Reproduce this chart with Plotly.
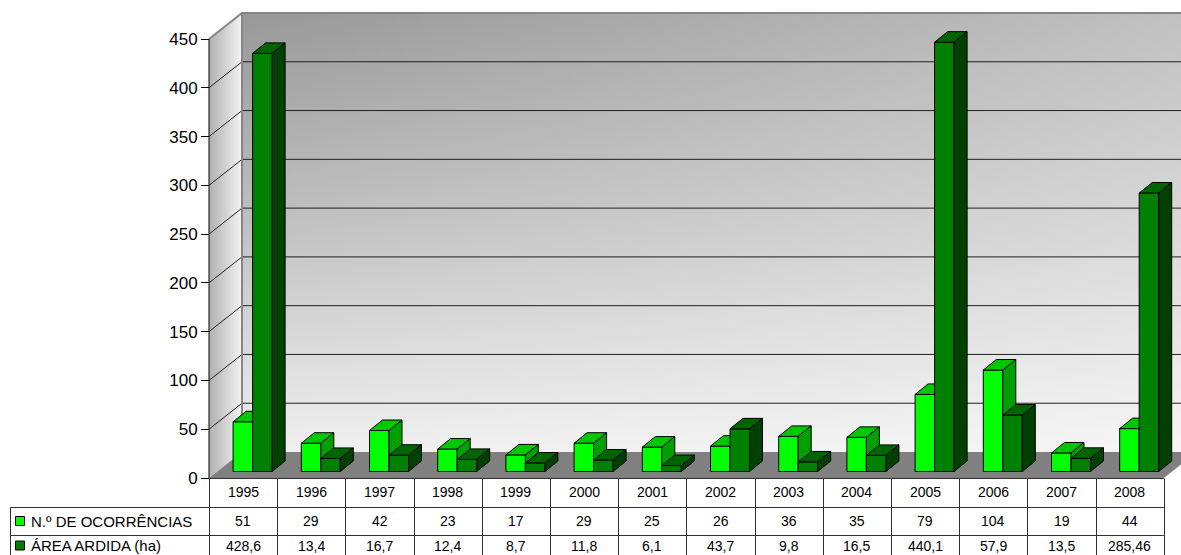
import plotly.graph_objects as go

# ---------------- data ----------------
years = ['1995', '1996', '1997', '1998', '1999', '2000', '2001',
         '2002', '2003', '2004', '2005', '2006', '2007', '2008']
ocorrencias = [51, 29, 42, 23, 17, 29, 25, 26, 36, 35, 79, 104, 19, 44]
area_ardida = [428.6, 13.4, 16.7, 12.4, 8.7, 11.8, 6.1, 43.7, 9.8, 16.5,
               440.1, 57.9, 13.5, 285.46]
y_ticks = [0, 50, 100, 150, 200, 250, 300, 350, 400, 450]
series_names = ['N.º DE OCORRÊNCIAS', 'ÁREA ARDIDA (ha)']

# ---------------- styling / geometry (pixel based layout) ----------------
W_FIG, H_FIG = 1181, 555
AX_PX = 209.0          # front value-axis position (px)
COL_PX = 68.2          # width of one category (px)
Y0_PX = 478.0          # value 0 on the front plane (px)
PPU = 439.0 / 450.0    # pixels per value unit
FONT = 'Liberation Sans, Arial, sans-serif'

def X(px):
    return (px - AX_PX) / COL_PX - 0.5

def Y(py):
    return (Y0_PX - py) / PPU

XR = [X(0), X(W_FIG)]
YR = [Y(H_FIG), Y(0)]

WDX, WDY = 33 / COL_PX, 26 / PPU          # wall depth
BW = 19.5 / COL_PX                         # bar face width
BDX, BDY = 13 / COL_PX, 10.5 / PPU         # bar depth
BASE = 6.5 / PPU                           # bar front plane lift
PC = 9.5 / COL_PX                          # pair centre shift
OFFSETS = [PC - BW, PC]

LIGHT = dict(front='#00ff00', top='#00c800', side='#00a000')
DARK = dict(front='#008000', top='#006400', side='#004000')
STYLES = [LIGHT, DARK]

n = len(years)
cats = list(range(n))
YMAX = y_ticks[-1]
x_left, x_right = -0.5, n - 0.5

fig = go.Figure()

def poly(xs, ys, color=None, line_color='rgba(0,0,0,0)', lw=0, grad=None, axis=1):
    kw = dict(x=xs, y=ys, mode='lines', fill='toself',
              line=dict(color=line_color, width=lw),
              hoverinfo='skip', showlegend=False)
    if grad is not None:
        kw['fillgradient'] = grad
    else:
        kw['fillcolor'] = color
    if axis > 1:
        kw['xaxis'] = 'x%d' % axis
        kw['yaxis'] = 'y%d' % axis
    fig.add_trace(go.Scatter(**kw))

# ---- layer 1: walls, floor, gridlines ----
bx0 = x_left + WDX
bx1 = x_right + WDX
# back wall, vertical gradient
poly([bx0, bx0, bx1, bx1, bx0], [WDY, YMAX + WDY, YMAX + WDY, WDY, WDY],
     grad=dict(type='vertical', start=YMAX + WDY, stop=WDY,
               colorscale=[[0, '#989898'], [0.5, '#c2c2c2'], [1, '#f0f0f0']]))
# horizontal whitening overlay for diagonal look
poly([bx0, bx0, bx1, bx1, bx0], [WDY, YMAX + WDY, YMAX + WDY, WDY, WDY],
     grad=dict(type='horizontal', start=bx0, stop=bx1,
               colorscale=[[0, 'rgba(255,255,255,0)'], [1, 'rgba(255,255,255,0.4)']]))
# left side wall
poly([x_left, x_left, bx0, bx0, x_left], [0, YMAX, YMAX + WDY, WDY, 0],
     grad=dict(type='horizontal', start=x_left, stop=bx0,
               colorscale=[[0, '#b0b0b0'], [1, '#f4f4f4']]))
# floor
poly([x_left, x_right, bx1, bx0, x_left], [0, 0, WDY, WDY, 0], color='#808080')

# gridlines
gx, gy = [], []
for v in y_ticks[1:-1]:
    gx += [x_left, bx0, bx1, None]
    gy += [v, v + WDY, v + WDY, None]
fig.add_trace(go.Scatter(x=gx, y=gy, mode='lines', line=dict(color='#202020', width=1),
                         hoverinfo='skip', showlegend=False))
# wall edges
fig.add_trace(go.Scatter(x=[x_left, bx0, bx1, None, bx0, bx0],
                         y=[YMAX, YMAX + WDY, YMAX + WDY, None, YMAX + WDY, WDY],
                         mode='lines', line=dict(color='#868686', width=2),
                         hoverinfo='skip', showlegend=False))
# front axis line
fig.add_trace(go.Scatter(x=[x_left, x_left], y=[0, YMAX], mode='lines',
                         line=dict(color='black', width=1),
                         hoverinfo='skip', showlegend=False))

# ---- layers 2 and 3: the bars ----
for s, (vals, name) in enumerate(zip([ocorrencias, area_ardida], series_names)):
    axis = s + 2
    st = STYLES[s]
    o = OFFSETS[s]
    fig.add_trace(go.Bar(x=cats, y=vals, base=BASE, width=BW, offset=o, name=name,
                         marker=dict(color=st['front'], line=dict(color='black', width=1)),
                         xaxis='x%d' % axis, yaxis='y%d' % axis,
                         hoverinfo='skip', showlegend=False))
    tx, ty, sx, sy = [], [], [], []
    for i, v in zip(cats, vals):
        xl = i + o
        xr = xl + BW
        yt = BASE + v
        tx += [xl, xr, xr + BDX, xl + BDX, xl, None]
        ty += [yt, yt, yt + BDY, yt + BDY, yt, None]
        sx += [xr, xr + BDX, xr + BDX, xr, xr, None]
        sy += [BASE, BASE + BDY, yt + BDY, yt, BASE, None]
    poly(tx, ty, color=st['top'], line_color='black', lw=1, axis=axis)
    poly(sx, sy, color=st['side'], line_color='black', lw=1, axis=axis)

# ---- data table ----
def px_x(p):
    return p / W_FIG

def px_y(p):
    return 1 - p / H_FIG

TABLE_RIGHT = AX_PX + COL_PX * n
LABEL_LEFT = 10.5
ROW_LINES = [478.5, 507.5, 535.5]
LINE_COL = '#303030'
shapes = []
shapes.append(dict(type='line', xref='paper', yref='paper',
                   x0=px_x(AX_PX), x1=px_x(TABLE_RIGHT), y0=px_y(ROW_LINES[0]), y1=px_y(ROW_LINES[0]),
                   line=dict(color=LINE_COL, width=1)))
for ry in ROW_LINES[1:]:
    shapes.append(dict(type='line', xref='paper', yref='paper',
                       x0=px_x(LABEL_LEFT), x1=px_x(TABLE_RIGHT), y0=px_y(ry), y1=px_y(ry),
                       line=dict(color=LINE_COL, width=1)))
for k in range(n + 1):
    xx = round(AX_PX + COL_PX * k) + 0.5
    shapes.append(dict(type='line', xref='paper', yref='paper',
                       x0=px_x(xx), x1=px_x(xx), y0=px_y(ROW_LINES[0]), y1=0,
                       line=dict(color=LINE_COL, width=1)))
shapes.append(dict(type='line', xref='paper', yref='paper',
                   x0=px_x(LABEL_LEFT), x1=px_x(LABEL_LEFT), y0=px_y(ROW_LINES[1]), y1=0,
                   line=dict(color=LINE_COL, width=1)))

ROW_Y = [492, 521, 545.5]
annotations = []
for i, yr_ in zip(cats, years):
    annotations.append(dict(x=i, y=px_y(ROW_Y[0]), xref='x', yref='paper', text=yr_,
                            xanchor='center', yanchor='middle', showarrow=False,
                            borderpad=0,
                            font=dict(family=FONT, size=14, color='black')))
row_texts = [[str(v) for v in ocorrencias],
             [str(v).replace('.', ',') for v in area_ardida]]
for r, texts in enumerate(row_texts):
    for i, t in zip(cats, texts):
        annotations.append(dict(x=i, y=px_y(ROW_Y[r + 1]), xref='x', yref='paper', text=t,
                                xanchor='center', yanchor='middle', showarrow=False,
                                borderpad=0,
                                font=dict(family=FONT, size=14, color='black')))
    annotations.append(dict(x=px_x(30), y=px_y(ROW_Y[r + 1]), xref='paper', yref='paper',
                            text=series_names[r], xanchor='left', yanchor='middle',
                            showarrow=False, borderpad=0,
                            font=dict(family=FONT, size=15, color='black')))

# legend keys
fig.add_trace(go.Scatter(x=[X(20), X(20)], y=[Y(ROW_Y[1]), Y(ROW_Y[2])], mode='markers',
                         marker=dict(symbol='square', size=9,
                                     color=[LIGHT['front'], DARK['front']],
                                     line=dict(color='black', width=1)),
                         hoverinfo='skip', showlegend=False))

axis_common = dict(showgrid=False, zeroline=False)
fig.update_layout(
    width=W_FIG, height=H_FIG,
    margin=dict(l=0, r=0, t=0, b=0),
    paper_bgcolor='white', plot_bgcolor='white',
    showlegend=False, barmode='overlay',
    font=dict(family=FONT, color='black'),
    xaxis=dict(range=XR, visible=False, **axis_common),
    yaxis=dict(range=YR, tickvals=y_ticks, ticks='outside', ticklen=8, tickwidth=1,
               tickcolor='black', tickfont=dict(family=FONT, size=17, color='black'),
               anchor='free', position=AX_PX / W_FIG, showline=False, **axis_common),
    xaxis2=dict(range=XR, visible=False, overlaying='x', anchor='y2', **axis_common),
    yaxis2=dict(range=YR, visible=False, overlaying='y', anchor='x2', **axis_common),
    xaxis3=dict(range=XR, visible=False, overlaying='x', anchor='y3', **axis_common),
    yaxis3=dict(range=YR, visible=False, overlaying='y', anchor='x3', **axis_common),
    shapes=shapes, annotations=annotations,
)

fig.write_html('out.html', config={'displayModeBar': False},
               post_script="document.body.style.margin='0';document.body.style.overflow='hidden';")
